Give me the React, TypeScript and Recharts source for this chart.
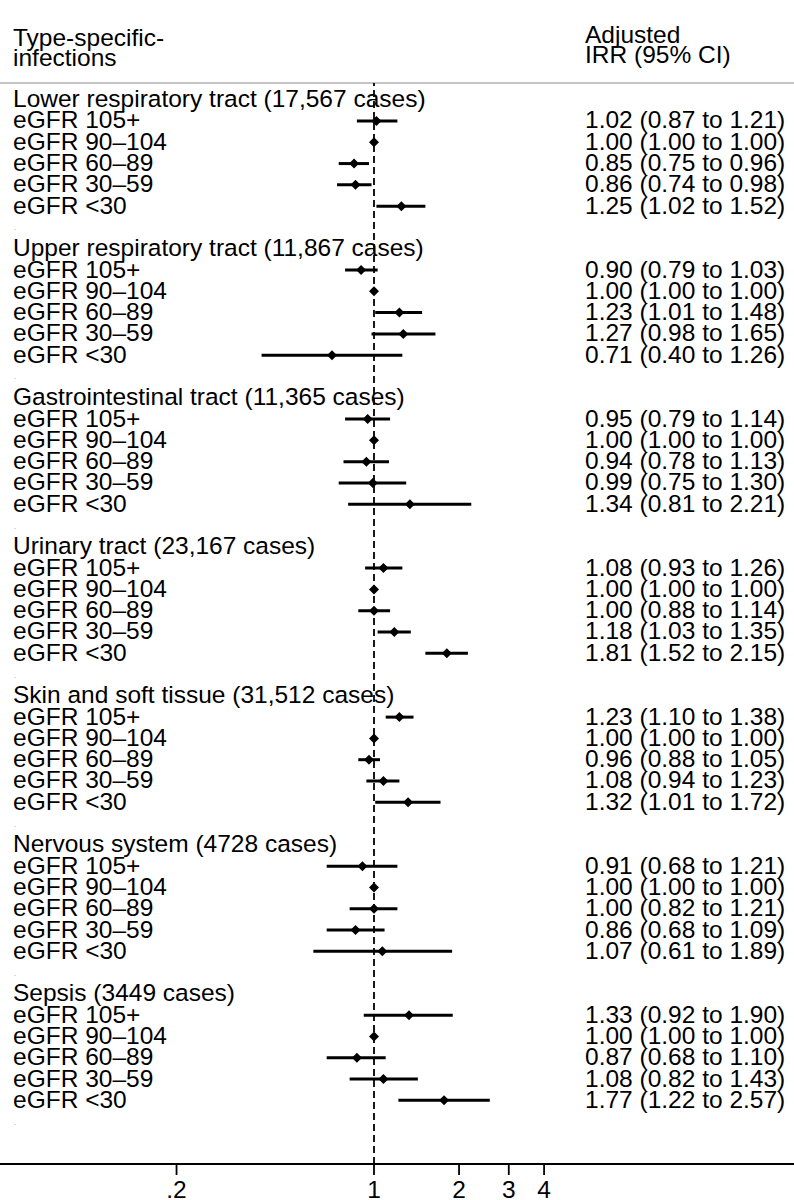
import React from "react";
import { ErrorBar, ReferenceLine, Scatter, ScatterChart, XAxis, YAxis } from "recharts";

// forest plot: adjusted IRR by eGFR band, per infection type (log x axis)

const groupNames = [
  "Lower respiratory tract (17,567 cases)",
  "Upper respiratory tract (11,867 cases)",
  "Gastrointestinal tract (11,365 cases)",
  "Urinary tract (23,167 cases)",
  "Skin and soft tissue (31,512 cases)",
  "Nervous system (4728 cases)",
  "Sepsis (3449 cases)",
];

const bandLabels = ["eGFR 105+", "eGFR 90–104", "eGFR 60–89", "eGFR 30–59", "eGFR <30"];

const irr = [
  [1.02, 1.0, 0.85, 0.86, 1.25],
  [0.9, 1.0, 1.23, 1.27, 0.71],
  [0.95, 1.0, 0.94, 0.99, 1.34],
  [1.08, 1.0, 1.0, 1.18, 1.81],
  [1.23, 1.0, 0.96, 1.08, 1.32],
  [0.91, 1.0, 1.0, 0.86, 1.07],
  [1.33, 1.0, 0.87, 1.08, 1.77],
];

const ciLow = [
  [0.87, 1.0, 0.75, 0.74, 1.02],
  [0.79, 1.0, 1.01, 0.98, 0.4],
  [0.79, 1.0, 0.78, 0.75, 0.81],
  [0.93, 1.0, 0.88, 1.03, 1.52],
  [1.1, 1.0, 0.88, 0.94, 1.01],
  [0.68, 1.0, 0.82, 0.68, 0.61],
  [0.92, 1.0, 0.68, 0.82, 1.22],
];

const ciHigh = [
  [1.21, 1.0, 0.96, 0.98, 1.52],
  [1.03, 1.0, 1.48, 1.65, 1.26],
  [1.14, 1.0, 1.13, 1.3, 2.21],
  [1.26, 1.0, 1.14, 1.35, 2.15],
  [1.38, 1.0, 1.05, 1.23, 1.72],
  [1.21, 1.0, 1.21, 1.09, 1.89],
  [1.9, 1.0, 1.1, 1.43, 2.57],
];

const xTicks = [0.2, 1, 2, 3, 4];

const FONT = '"Liberation Sans", Arial, Helvetica, sans-serif';
const FS = 24.5;
const ROWS_PER_GROUP = 7; // header + 5 bands + spacer

type Row = { row: number; irr: number; left: string; right: string; kind: "head" | "band" | "gap" };

const rows: Row[] = [];
const points: { row: number; irr: number; err: [number, number] }[] = [];
groupNames.forEach((name, g) => {
  const base = g * ROWS_PER_GROUP;
  rows.push({ row: base, irr: 1, left: name, right: "", kind: "head" });
  bandLabels.forEach((b, k) => {
    const v = irr[g][k];
    const lo = ciLow[g][k];
    const hi = ciHigh[g][k];
    rows.push({
      row: base + 1 + k,
      irr: 1,
      left: b,
      right: `${v.toFixed(2)} (${lo.toFixed(2)} to ${hi.toFixed(2)})`,
      kind: "band",
    });
    points.push({ row: base + 1 + k, irr: v, err: [v - lo, hi - v] });
  });
  rows.push({ row: base + 6, irr: 1, left: ".", right: "", kind: "gap" });
});

// text columns: y comes from the row scale, x is fixed to the two columns
function RowText(props: any) {
  const { cy, payload } = props;
  const r: Row = payload;
  if (r.kind === "gap") {
    return (
      <text x={14} y={cy + 3} fontSize={8} fill="#999" fontFamily={FONT}>
        .
      </text>
    );
  }
  return (
    <g>
      <text x={13} y={cy + 7.5} fontSize={FS} fill="#000" fontFamily={FONT}>
        {r.left}
      </text>
      {r.right && (
        <text x={585} y={cy + 7.5} fontSize={FS} fill="#000" fontFamily={FONT}>
          {r.right}
        </text>
      )}
    </g>
  );
}

function AxisTick(props: any) {
  const { x, y, payload } = props;
  const v = payload.value as number;
  const label = v < 1 ? String(v).replace(/^0/, "") : String(v);
  return (
    <text x={x} y={y + 21} textAnchor="middle" fontSize={FS} fill="#000" fontFamily={FONT}>
      {label}
    </text>
  );
}

function Diamond(props: any) {
  const { cx, cy } = props;
  const s = 5;
  return <polygon points={`${cx},${cy - s} ${cx + s},${cy} ${cx},${cy + s} ${cx - s},${cy}`} fill="#000" />;
}

const headStyle: React.CSSProperties = {
  position: "absolute",
  fontFamily: FONT,
  fontSize: FS,
  lineHeight: "20px",
  color: "#000",
  whiteSpace: "pre",
};

export default function App() {
  const yMin = -0.7844;
  const yMax = 49.99;
  return (
    <div style={{ position: "absolute", left: 0, top: 0, width: 794, height: 1200, background: "#fff" }}>
      <div style={{ ...headStyle, left: 13, top: 27.5 }}>{"Type-specific-\ninfections"}</div>
      <div style={{ ...headStyle, left: 585, top: 24.5 }}>{"Adjusted\nIRR (95% CI)"}</div>
      <ScatterChart width={794} height={1200} margin={{ top: 83, right: 0, bottom: 0, left: 0 }}>
        <XAxis
          type="number"
          dataKey="irr"
          scale="log"
          domain={[0.04744, 30.67]}
          allowDataOverflow
          ticks={xTicks}
          interval={0}
          height={36}
          tickSize={11}
          axisLine={{ stroke: "#000", strokeWidth: 2 }}
          tickLine={{ stroke: "#000", strokeWidth: 1.8 }}
          tick={<AxisTick />}
        />
        <YAxis type="number" dataKey="row" reversed domain={[yMin, yMax]} allowDataOverflow hide />
        <ReferenceLine y={yMin} stroke="#c4c4c4" strokeWidth={2} />
        <ReferenceLine x={1} stroke="#000" strokeWidth={1.8} strokeDasharray="7 4" />
        <Scatter data={rows} shape={<RowText />} isAnimationActive={false} />
        <Scatter data={points} shape={<Diamond />} isAnimationActive={false}>
          <ErrorBar dataKey="err" direction="x" width={0} stroke="#000" strokeWidth={3} isAnimationActive={false} />
        </Scatter>
      </ScatterChart>
    </div>
  );
}
